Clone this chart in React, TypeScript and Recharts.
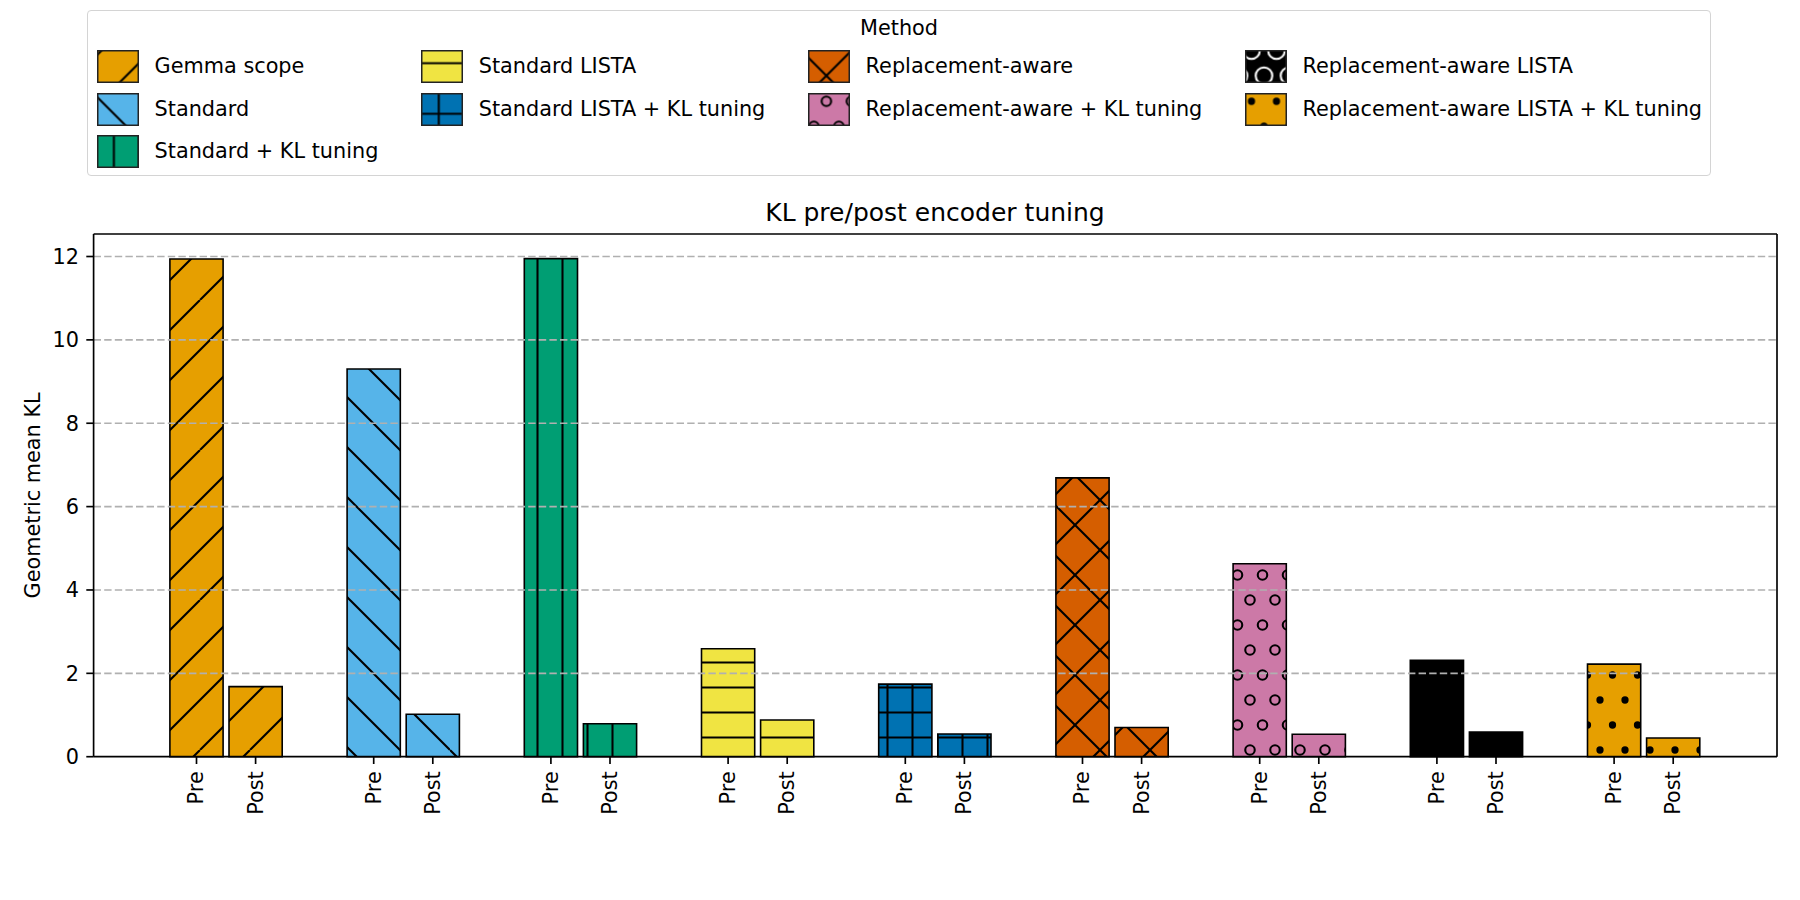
import React from 'react';
import {
  BarChart,
  Bar,
  XAxis,
  YAxis,
  Cell,
  LabelList,
  ReferenceLine,
} from 'recharts';

const methods = [
  'Gemma scope',
  'Standard',
  'Standard + KL tuning',
  'Standard LISTA',
  'Standard LISTA + KL tuning',
  'Replacement-aware',
  'Replacement-aware + KL tuning',
  'Replacement-aware LISTA',
  'Replacement-aware LISTA + KL tuning',
];
const preKL = [11.94, 9.3, 11.95, 2.59, 1.74, 6.69, 4.63, 2.31, 2.22];
const postKL = [1.68, 1.02, 0.79, 0.88, 0.545, 0.7, 0.54, 0.59, 0.45];
const colors = [
  '#E69F00',
  '#56B4E9',
  '#009E73',
  '#F0E442',
  '#0072B2',
  '#D55E00',
  '#CC79A7',
  '#000000',
  '#E69F00',
];
const hatches = ['/', '\\', '|', '-', '+', 'x', 'o', 'O', '.'];
const yTicks = [0, 2, 4, 6, 8, 10, 12];
const yMax = 12.54;
const legendCols = [[0, 1, 2], [3, 4], [5, 6], [7, 8]];

const data = methods.map((m, i) => ({ method: m, pre: preKL[i], post: postKL[i] }));

const FONT = '"DejaVu Sans", sans-serif';
const HW = 2.08; // hatch line width

function hatchShapes(h: string, color: string) {
  const els: React.ReactNode[] = [];
  if (h === '/' || h === 'x') {
    for (let c = 0; c <= 300; c += 50) els.push(<line key={'a' + c} x1={c} y1={0} x2={c - 150} y2={150} />);
  }
  if (h === '\\' || h === 'x') {
    for (let c = -150; c <= 150; c += 50) els.push(<line key={'b' + c} x1={0} y1={c} x2={150} y2={c + 150} />);
  }
  if (h === '|' || h === '+') {
    for (let k = 0; k < 6; k++) els.push(<line key={'v' + k} x1={12.5 + 25 * k} y1={0} x2={12.5 + 25 * k} y2={150} />);
  }
  if (h === '-' || h === '+') {
    for (let k = 0; k < 6; k++) els.push(<line key={'h' + k} x1={0} y1={12.5 + 25 * k} x2={150} y2={12.5 + 25 * k} />);
  }
  if (h === 'o' || h === 'O' || h === '.') {
    const r = h === 'o' ? 4.75 : h === 'O' ? 8.3 : 2.6;
    for (let row = 0; row <= 6; row++) {
      const y = row * 25;
      const xs = row % 2 === 0 ? [0, 25, 50, 75, 100, 125, 150] : [12.5, 37.5, 62.5, 87.5, 112.5, 137.5];
      xs.forEach((x) =>
        els.push(<circle key={`c${row}-${x}`} cx={x} cy={y} r={r} fill={h === '.' ? color : 'none'} />)
      );
    }
  }
  return els;
}

function HatchPattern({ id, i, ox, oy, hatchColor }: { id: string; i: number; ox: number; oy: number; hatchColor: string }) {
  return (
    <pattern id={id} patternUnits="userSpaceOnUse" width={150} height={150} x={ox} y={oy}>
      <rect width={150} height={150} fill={colors[i]} />
      <g stroke={hatchColor} strokeWidth={HW} fill="none">
        {hatchShapes(hatches[i], hatchColor)}
      </g>
    </pattern>
  );
}

const tickLabel = (word: string) => (props: any) => {
  const vb = props.viewBox ?? props;
  const cx = vb.x + vb.width / 2;
  const base = vb.y + vb.height;
  const ty = base + 14.6;
  return (
    <g>
      <line x1={cx} x2={cx} y1={base} y2={base + 7.3} stroke="#000" strokeWidth={1.67} />
      <text
        x={cx}
        y={ty}
        transform={`rotate(-90 ${cx} ${ty})`}
        textAnchor="end"
        dominantBaseline="central"
        fontFamily={FONT}
        fontSize={20.8}
        fill="#000"
      >
        {word}
      </text>
    </g>
  );
};

const swatchX = [87.6, 411.7, 798.6, 1235.5];
const rowY = [41.3, 83.7, 126.1];

function Swatch({ i, x, y }: { i: number; x: number; y: number }) {
  const id = `sw-${i}`;
  const hc = colors[i] === '#000000' ? '#ffffff' : '#000000';
  return (
    <svg width={42} height={33} style={{ position: 'absolute', left: x, top: y }}>
      <defs>
        <HatchPattern id={id} i={i} ox={-(x + 8 + 79)} oy={-(y + 8 + 2)} hatchColor={hc} />
      </defs>
      <rect x={0.75} y={0.75} width={40.5} height={31.5} fill={`url(#${id})`} stroke="#222" strokeWidth={1.5} />
    </svg>
  );
}

function MethodLegend() {
  return (
    <div
      style={{
        position: 'absolute',
        left: 79,
        top: 2,
        width: 1624,
        height: 166,
        boxSizing: 'border-box',
        border: '1.7px solid #d4d4d4',
        borderRadius: 4,
        fontFamily: FONT,
        fontSize: 20.8,
      }}
    >
      <div style={{ position: 'absolute', left: 0, right: 0, top: 2, textAlign: 'center', lineHeight: '30px' }}>Method</div>
      {legendCols.map((col, c) =>
        col.map((i, r) => (
          <React.Fragment key={i}>
            <Swatch i={i} x={swatchX[c] - 79} y={rowY[r] - 2} />
            <div
              style={{
                position: 'absolute',
                left: swatchX[c] - 79 + 58,
                top: rowY[r] - 2,
                height: 33,
                lineHeight: '33px',
                whiteSpace: 'nowrap',
              }}
            >
              {methods[i]}
            </div>
          </React.Fragment>
        ))
      )}
    </div>
  );
}

export default function App() {
  return (
    <div style={{ position: 'relative', width: 1780, height: 880, fontFamily: FONT }}>
      <BarChart
        width={1780}
        height={880}
        data={data}
        margin={{ top: 226, right: 10, left: 0, bottom: 71.3 }}
        barGap={5.9}
      >
        <defs>
          {methods.map((_, i) => (
            <HatchPattern key={i} id={`hatch-${i}`} i={i} ox={-8} oy={-8} hatchColor="#000000" />
          ))}
        </defs>
        <XAxis
          dataKey="method"
          tick={false}
          tickLine={false}
          axisLine={{ stroke: '#000', strokeWidth: 1.67 }}
          height={60}
          padding={{ left: 44.3, right: 44.3 }}
        />
        <YAxis
          type="number"
          domain={[0, yMax]}
          ticks={yTicks}
          interval={0}
          width={85.6}
          tickSize={7.3}
          tickMargin={7.3}
          axisLine={{ stroke: '#000', strokeWidth: 1.67 }}
          tickLine={{ stroke: '#000', strokeWidth: 1.67 }}
          tick={{ fill: '#000', fontSize: 20.8, fontFamily: FONT }}
          label={{
            content: () => (
              <text
                x={24.9}
                y={487.4}
                transform="rotate(-90 24.9 487.4)"
                textAnchor="middle"
                dominantBaseline="central"
                fontFamily={FONT}
                fontSize={20.8}
                fill="#000"
              >
                Geometric mean KL
              </text>
            ),
          }}
        />
        <YAxis
          yAxisId="right"
          orientation="right"
          type="number"
          domain={[0, yMax]}
          width={1}
          tick={false}
          tickLine={false}
          axisLine={{ stroke: '#000', strokeWidth: 1.67 }}
        />
        <Bar dataKey="pre" barSize={53.2} stroke="#000" strokeWidth={1.6} isAnimationActive={false}>
          {data.map((_, i) => (
            <Cell key={i} fill={`url(#hatch-${i})`} />
          ))}
          <LabelList dataKey="pre" content={tickLabel('Pre')} />
        </Bar>
        <Bar
          dataKey="post"
          yAxisId="right"
          barSize={53.2}
          stroke="#000"
          strokeWidth={1.6}
          isAnimationActive={false}
        >
          {data.map((_, i) => (
            <Cell key={i} fill={`url(#hatch-${i})`} />
          ))}
          <LabelList dataKey="post" content={tickLabel('Post')} />
        </Bar>
        {yTicks.slice(1).map((t) => (
          <ReferenceLine key={t} y={t} stroke="#b0b0b0" strokeWidth={1.6} strokeDasharray="7.4 3.2" />
        ))}
        <ReferenceLine y={yMax} stroke="#000" strokeWidth={1.67} ifOverflow="visible" />
      </BarChart>
      <div
        style={{
          position: 'absolute',
          left: 0,
          width: 1854,
          top: 190,
          textAlign: 'center',
          fontSize: 25,
          lineHeight: '30px',
        }}
      >
        KL pre/post encoder tuning
      </div>
      <MethodLegend />
    </div>
  );
}
